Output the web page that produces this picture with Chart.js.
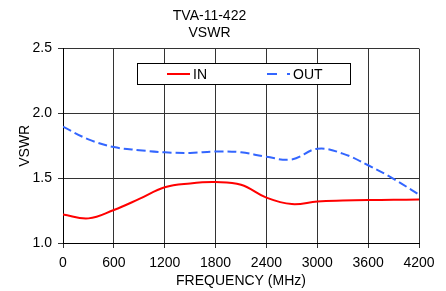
<!DOCTYPE html>
<html>
<head>
<meta charset="utf-8">
<script src="https://cdn.jsdelivr.net/npm/chart.js@4"></script>
<style>
    html, body { margin: 0; padding: 0; background: #fff; }
    #wrap { width: 446px; height: 291px; }
</style>
</head>
<body>
<div id="wrap"><canvas id="chart"></canvas></div>
<script>
// VSWR chart data

const freqMHz = [0, 300, 600, 900, 1200, 1500, 1800, 2100, 2400, 2700, 3000, 3300, 3600, 3900, 4200];
const vswrIn  = [1.22, 1.19, 1.255, 1.34, 1.43, 1.46, 1.47, 1.45, 1.35, 1.30, 1.32, 1.328, 1.332, 1.333, 1.335];
const vswrOut = [1.897, 1.80, 1.74, 1.716, 1.70, 1.695, 1.706, 1.70, 1.665, 1.645, 1.727, 1.69, 1.60, 1.495, 1.373];
const yTicks = [1.0, 1.5, 2.0, 2.5];
const titleLines = ['TVA-11-422', 'VSWR'];

const FONT = "'Liberation Sans', Arial, sans-serif";

function toPoints(values) {
    return freqMHz.map((f, i) => ({ x: f, y: values[i] }));
}

// Legend box drawn inside the plot area, like the original
const boxLegend = {
    id: 'boxLegend',
    afterDraw(chart) {
        const ctx = chart.ctx;
        const ds = chart.data.datasets;
        ctx.save();
        ctx.fillStyle = '#fff';
        ctx.fillRect(137, 63.5, 214, 21);
        ctx.strokeStyle = '#000';
        ctx.lineWidth = 1;
        ctx.strokeRect(137.5, 63.5, 213, 21);

        ctx.font = '14px ' + FONT;
        ctx.textBaseline = 'middle';
        ctx.fillStyle = '#000';

        const items = [
            { x1: 167, x2: 190, tx: 193, dash: [] },
            { x1: 267, x2: 290, tx: 293, dash: [10, 10] }
        ];
        items.forEach((it, i) => {
            ctx.beginPath();
            ctx.setLineDash(it.dash);
            ctx.strokeStyle = ds[i].borderColor;
            ctx.lineWidth = 2;
            ctx.moveTo(it.x1, 74);
            ctx.lineTo(it.x2, 74);
            ctx.stroke();
            ctx.setLineDash([]);
            ctx.fillText(ds[i].label, it.tx, 75);
        });
        ctx.restore();
    }
};

new Chart(document.getElementById('chart'), {
    type: 'line',
    data: {
        datasets: [{
            label: 'IN',
            data: toPoints(vswrIn),
            borderColor: '#ff0000',
            borderWidth: 2,
            pointRadius: 0,
            tension: 0.4
        }, {
            label: 'OUT',
            data: toPoints(vswrOut),
            borderColor: '#3366ff',
            borderWidth: 2,
            borderDash: [9, 4],
            pointRadius: 0,
            tension: 0.4
        }]
    },
    options: {
        responsive: true,
        maintainAspectRatio: false,
        animation: false,
        layout: { padding: { left: 0, right: 27, top: 0, bottom: 0 } },
        plugins: {
            legend: { display: false },
            tooltip: { enabled: false },
            title: {
                display: true,
                text: titleLines,
                color: '#000',
                font: { family: FONT, size: 14, weight: 'normal', lineHeight: 1.2 },
                padding: { top: 8, bottom: 7 }
            }
        },
        scales: {
            x: {
                type: 'linear',
                min: 0,
                max: 4200,
                afterFit: s => { s.height = 48; },
                ticks: {
                    stepSize: 600,
                    color: '#000',
                    padding: 7,
                    maxRotation: 0,
                    font: { family: FONT, size: 14 },
                    callback: v => String(v)
                },
                grid: { color: '#333', lineWidth: 1, tickLength: 5 },
                border: { color: '#000', width: 1 },
                title: {
                    display: true,
                    text: 'FREQUENCY (MHz)',
                    color: '#000',
                    font: { family: FONT, size: 14 },
                    padding: { top: 0, bottom: 1 }
                }
            },
            y: {
                min: 1.0,
                max: 2.5,
                afterFit: s => { s.width = 63; },
                afterBuildTicks: s => { s.ticks = yTicks.map(v => ({ value: v })); },
                ticks: {
                    color: '#000',
                    padding: 6,
                    font: { family: FONT, size: 14 },
                    callback: v => Number(v).toFixed(1)
                },
                grid: { color: '#333', lineWidth: 1, tickLength: 5 },
                border: { color: '#000', width: 1 },
                title: {
                    display: true,
                    text: 'VSWR',
                    color: '#000',
                    font: { family: FONT, size: 14 },
                    padding: { top: 17, bottom: 0 }
                }
            }
        }
    },
    plugins: [boxLegend]
});
</script>
</body>
</html>
